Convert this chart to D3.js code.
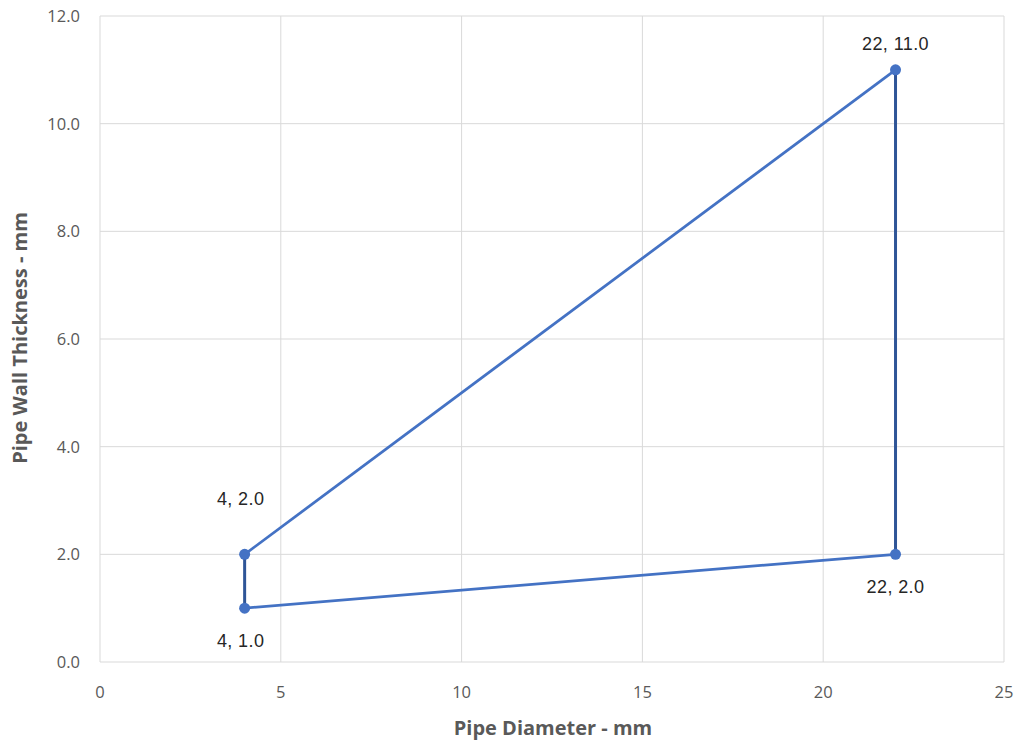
<!DOCTYPE html>
<html><head><meta charset="utf-8">
<script src="https://cdn.jsdelivr.net/npm/d3@7"></script>
<style>body{margin:0;background:#fff;}svg{display:block;}</style>
</head><body>
<svg id="c" width="1023" height="747"></svg>
<script>
const xTicks = [0,5,10,15,20,25];
const yTicks = [0,2,4,6,8,10,12];
// diagonal series (lighter blue)
const diagA = [{x:4,y:2},{x:22,y:11}];
const diagB = [{x:4,y:1},{x:22,y:2}];
// vertical series (darker blue)
const vertA = [{x:4,y:1},{x:4,y:2}];
const vertB = [{x:22,y:2},{x:22,y:11}];
const points = [{x:4,y:2,pos:"above"},{x:22,y:11,pos:"above"},{x:22,y:2,pos:"below"},{x:4,y:1,pos:"below"}];

const svg = d3.select("#c");
const L=100,R=1004,T=16,B=662;
const x = d3.scaleLinear().domain([0,25]).range([L,R]);
const y = d3.scaleLinear().domain([0,12]).range([B,T]);

const g = svg.append("g");
g.selectAll(".gx").data(xTicks).enter().append("line")
 .attr("x1",d=>x(d)).attr("x2",d=>x(d)).attr("y1",T).attr("y2",B)
 .attr("stroke","#d9d9d9").attr("stroke-width",1);
g.selectAll(".gy").data(yTicks).enter().append("line")
 .attr("y1",d=>y(d)).attr("y2",d=>y(d)).attr("x1",L).attr("x2",R)
 .attr("stroke","#d9d9d9").attr("stroke-width",1);

const tickFont = "'Open Sans', 'Liberation Sans', sans-serif";
g.selectAll(".tx").data(xTicks).enter().append("text")
 .attr("x",d=>x(d)).attr("y",698).attr("text-anchor","middle")
 .attr("font-family",tickFont).attr("font-size",16.5).attr("fill","#595959").text(d=>d);
g.selectAll(".ty").data(yTicks).enter().append("text")
 .attr("x",80).attr("y",d=>y(d)+6).attr("text-anchor","end")
 .attr("font-family",tickFont).attr("font-size",16.5).attr("fill","#595959").text(d=>d.toFixed(1));

const line = d3.line().x(d=>x(d.x)).y(d=>y(d.y));
[diagA,diagB].forEach(s=>g.append("path").attr("d",line(s)).attr("fill","none").attr("stroke","#4472C4").attr("stroke-width",2.75));
[vertA,vertB].forEach(s=>g.append("path").attr("d",line(s)).attr("fill","none").attr("stroke","#2F5597").attr("stroke-width",3));

g.selectAll(".pt").data(points).enter().append("circle")
 .attr("cx",d=>x(d.x)).attr("cy",d=>y(d.y)).attr("r",5.5).attr("fill","#4472C4");

g.selectAll(".lb").data(points).enter().append("text")
 .attr("x",d=>x(d.x)-(d.x===4?4:0)).attr("y",d=>d.pos==="above" ? y(d.y)-(d.y===2?49:20) : y(d.y)+39)
 .attr("text-anchor","middle").attr("font-family","'Liberation Sans', Arial, sans-serif")
 .attr("font-size",18).attr("letter-spacing",0.4).attr("fill","#262626").text(d=>d.x+", "+d.y.toFixed(1));

svg.append("text").attr("x",553).attr("y",735).attr("text-anchor","middle")
 .attr("font-family",tickFont).attr("font-weight","bold").attr("font-size",20).attr("fill","#595959")
 .text("Pipe Diameter - mm");
svg.append("text").attr("transform","translate(27,338) rotate(-90)").attr("text-anchor","middle")
 .attr("font-family",tickFont).attr("font-weight","bold").attr("font-size",20).attr("fill","#595959")
 .text("Pipe Wall Thickness - mm");
</script>
</body></html>
